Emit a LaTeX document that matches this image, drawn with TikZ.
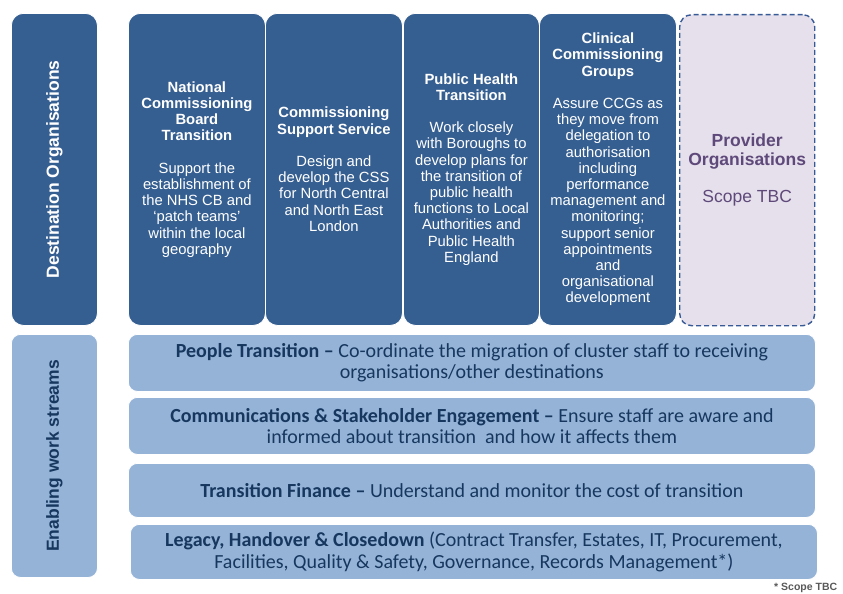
\documentclass[tikz,border=0pt]{standalone}
\usepackage{fontspec}
\setmainfont{Liberation Sans}
\newfontfamily\calib{Carlito}
\definecolor{dblue}{RGB}{54,95,145}
\definecolor{lblue}{RGB}{149,179,215}
\definecolor{navy}{RGB}{23,55,94}
\definecolor{lav}{RGB}{229,224,236}
\definecolor{purp}{RGB}{95,73,122}
\definecolor{dashb}{RGB}{55,90,150}
\begin{document}
\begin{tikzpicture}[x=1pt,y=-1pt,
  darkbox/.style={fill=dblue, draw=white, line width=0.8pt, rounded corners=12pt, inner sep=0pt, anchor=north west,
    text=white, align=center, font=\fontsize{14.8}{16.2}\selectfont},
  streambox/.style={fill=lblue, draw=white, line width=0.8pt, rounded corners=9pt, inner sep=0pt, anchor=north west,
    text=navy, align=center, font=\calib\fontsize{20}{21.5}\selectfont},
  sidelabel/.style={rotate=90, font=\bfseries\fontsize{17.5}{20}\selectfont}
]
\useasboundingbox (0,0) rectangle (843,594);

% left labels
\node[darkbox, minimum width=86, minimum height=312] (dest) at (11,13) {};
\node[sidelabel, text=white] (destlbl) at (dest.center) {Destination Organisations};

\node[streambox, minimum width=86, minimum height=243] (enab) at (11,334) {};
\node[sidelabel, text=navy] (enablbl) at (enab.center) {Enabling work streams};

% destination organisations
\node[darkbox, minimum width=137, minimum height=312] (ncb) at (128,13)
 {\textbf{National}\\\textbf{Commissioning}\\\textbf{Board}\\\textbf{Transition}\\[16.2pt]
  Support the\\establishment of\\the NHS CB and\\`patch teams'\\within the local\\geography};
\node[darkbox, minimum width=137, minimum height=312] (css) at (265,13)
 {\textbf{Commissioning}\\\textbf{Support Service}\\[16.2pt]
  Design and\\develop the CSS\\for North Central\\and North East\\London};
\node[darkbox, minimum width=136, minimum height=312] (ph) at (403,13)
 {\textbf{Public Health}\\\textbf{Transition}\\[16.2pt]
  Work closely\\with Boroughs to\\develop plans for\\the transition of\\public health\\functions to Local\\Authorities and\\Public Health\\England};
\node[darkbox, minimum width=137, minimum height=312] (ccg) at (539,13)
 {\textbf{Clinical}\\\textbf{Commissioning}\\\textbf{Groups}\\[16.2pt]
  Assure CCGs as\\they move from\\delegation to\\authorisation\\including\\performance\\management and\\monitoring;\\support senior\\appointments\\and\\organisational\\development};
\node[darkbox, fill=lav, draw=dashb, line width=1.4pt, dash pattern=on 5pt off 3pt, text=purp,
  minimum width=135, minimum height=311, font=\fontsize{17.5}{18.5}\selectfont] (prov) at (679,14)
 {\textbf{Provider}\\\textbf{Organisations}\\[18.5pt]Scope TBC};

% enabling work streams
\node[streambox, minimum width=687, minimum height=57] (people) at (128,334)
 {\textbf{People Transition –} Co-ordinate the migration of cluster staff to receiving\\organisations/other destinations};
\node[streambox, minimum width=687, minimum height=57] (comms) at (128,397)
 {\textbf{Communications \& Stakeholder Engagement –} Ensure staff are aware and\\informed about transition\ \ and how it affects them};
\node[streambox, minimum width=687, minimum height=54] (fin) at (128,463)
 {\textbf{Transition Finance –} Understand and monitor the cost of transition};
\node[streambox, minimum width=687, minimum height=55] (legacy) at (130,524)
 {\textbf{Legacy, Handover \& Closedown} (Contract Transfer, Estates, IT, Procurement,\\Facilities, Quality \& Safety, Governance, Records Management*)};

\node[anchor=west, inner sep=0pt, text=black!65, font=\bfseries\fontsize{10.5}{12}\selectfont] (note) at (774,588) {* Scope TBC};
\end{tikzpicture}
\end{document}
